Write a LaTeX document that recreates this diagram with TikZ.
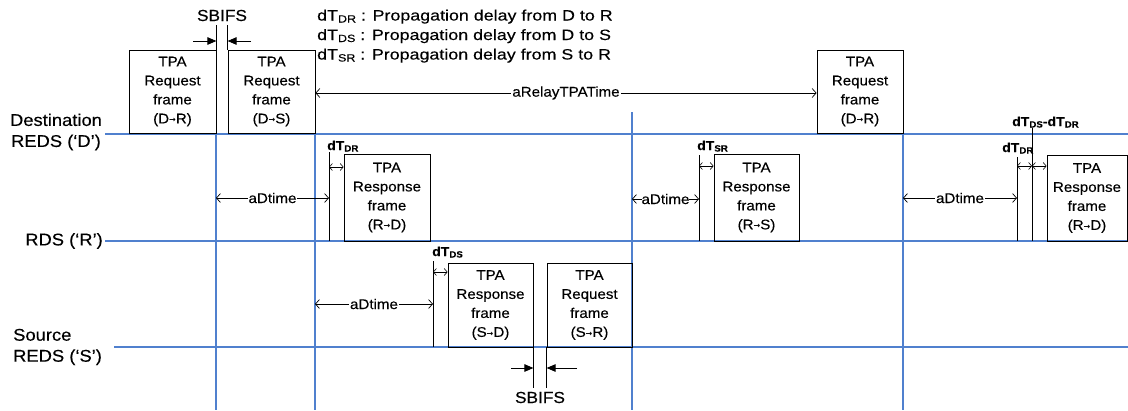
\documentclass[tikz,border=0pt]{standalone}
\usepackage{fontspec}
\setmainfont[FakeStretch=1.08, FakeBold=0.25]{Liberation Sans}
\newfontfamily\legfont[FakeStretch=1.19, FakeBold=0.25]{Liberation Sans}
\newfontfamily\arrfont{DejaVu Sans}
\usetikzlibrary{arrows.meta}
\definecolor{tlblue}{RGB}{80,128,206}
\newcommand\lsub[1]{\raisebox{-2pt}{\fontsize{10.5}{10.5}\selectfont #1}}
\newcommand\bsub[1]{\raisebox{-1.5pt}{\fontsize{9}{9}\selectfont\bfseries #1}}
\newcommand\rarr{\raisebox{0.5pt}{\arrfont\bfseries\fontsize{8}{8}\selectfont →}}
\begin{document}
\begin{tikzpicture}[x=1pt,y=-1pt,
  tl/.style={draw=tlblue, line width=1.2pt},
  frame/.style={draw, line width=0.8pt, align=center, inner sep=0pt, font=\fontsize{14}{19}\selectfont},
  tick/.style={draw, line width=0.8pt},
  dimarr/.style={line width=0.7pt, {Straight Barb[length=4pt,width=9pt]}-{Straight Barb[length=4pt,width=9pt]}},
  sdim/.style={line width=0.6pt, {Straight Barb[length=3pt,width=7pt]}-{Straight Barb[length=3pt,width=7pt]}},
  sbarr/.style={line width=0.9pt, -{Triangle[length=9pt,width=7.5pt]}},
  midlab/.style={fill=white, inner xsep=1pt, inner ysep=1pt, font=\fontsize{14}{14}\selectfont},
  boldlab/.style={font=\fontsize{13}{13}\selectfont\bfseries, inner sep=0pt, anchor=base west},
  leg/.style={font=\legfont\fontsize{15}{15}\selectfont, inner sep=0pt, anchor=base west},
  lab/.style={font=\fontsize{17}{21}\selectfont, inner sep=0pt},
  sblab/.style={font=\fontsize{16}{16}\selectfont, inner sep=0pt, anchor=base}
]
\useasboundingbox (0,0) rectangle (1128,410);
\fill[white] (0,0) rectangle (1128,410);
% time lines
\coordinate (v1) at (216,134);
\coordinate (v2) at (315,134);
\coordinate (v3) at (632,112);
\coordinate (v4) at (903,134);
\draw[tl] (105,134) -- (1128,134);
\draw[tl] (105,241) -- (1128,241);
\draw[tl] (114,347) -- (1128,347);
\draw[tl] (v1) -- (216,410);
\draw[tl] (v2) -- (315,410);
\draw[tl] (v3) -- (632,410);
\draw[tl] (v4) -- (903,410);
% station labels
\node[lab, align=center] (dlab) at (56,132) {Destination\\REDS (‘D’)};
\node[lab, anchor=east] (rlab) at (103,241) {RDS (‘R’)};
\node[lab, align=left, anchor=west] (slab) at (13,347) {Source\\REDS (‘S’)};
% legend
\node[leg] (l1) at (317,20.5) {dT\lsub{DR} : Propagation delay from D to R};
\node[leg] (l2) at (317,40) {dT\lsub{DS} : Propagation delay from D to S};
\node[leg] (l3) at (317,59.5) {dT\lsub{SR} : Propagation delay from S to R};
% frames
\node[frame, minimum width=87pt, minimum height=83pt] (A) at (172.5,91.5) {TPA\\Request\\frame\\(D\rarr R)};
\node[frame, minimum width=87pt, minimum height=83pt] (B) at (271.5,91.5) {TPA\\Request\\frame\\(D\rarr S)};
\node[frame, minimum width=86pt, minimum height=83pt] (C) at (860,91.5) {TPA\\Request\\frame\\(D\rarr R)};
\node[frame, minimum width=86pt, minimum height=87pt] (R1) at (387,197.5) {TPA\\Response\\frame\\(R\rarr D)};
\node[frame, minimum width=85pt, minimum height=87pt] (R2) at (756.5,197.5) {TPA\\Response\\frame\\(R\rarr S)};
\node[frame, minimum width=80pt, minimum height=86pt] (R3) at (1087,198) {TPA\\Response\\frame\\(R\rarr D)};
\node[frame, minimum width=85pt, minimum height=84pt] (S1) at (490.5,305) {TPA\\Response\\frame\\(S\rarr D)};
\node[frame, minimum width=85pt, minimum height=84pt] (S2) at (589.5,305) {TPA\\Request\\frame\\(S\rarr R)};
% SBIFS top
\coordinate (sbt) at (0,25);
\coordinate (sby) at (0,41);
\coordinate (sbl) at (193,41);
\coordinate (sbr) at (251,41);
\draw[tick] (A.north east) -- (A.north east |- sbt);
\draw[tick] (B.north west) -- (B.north west |- sbt);
\draw[sbarr] (sbl) -- (A.east |- sby);
\draw[sbarr] (sbr) -- (B.west |- sby);
\node[sblab] (sb1) at (222,21) {SBIFS};
% SBIFS bottom
\coordinate (sbb) at (0,388);
\coordinate (sby2) at (0,368);
\coordinate (sbl2) at (511,368);
\coordinate (sbr2) at (577,368);
\draw[tick] (S1.south east) -- (S1.south east |- sbb);
\draw[tick] (S2.south west) -- (S2.south west |- sbb);
\draw[sbarr] (sbl2) -- (S1.east |- sby2);
\draw[sbarr] (sbr2) -- (S2.west |- sby2);
\node[sblab] (sb2) at (540,403) {SBIFS};
% aRelayTPATime
\coordinate (yrel) at (0,93);
\draw[dimarr] (B.east |- yrel) -- node[midlab] (relay) {aRelayTPATime} (C.west |- yrel);
% first R response
\coordinate (d1t) at (329,152);
\coordinate (d1b) at (329,241);
\coordinate (d1y) at (0,167);
\coordinate (a1y) at (0,198);
\draw[tick] (d1t) -- (d1b);
\draw[sdim] (d1t |- d1y) -- (R1.west |- d1y);
\node[boldlab] (d1l) at (327,150) {dT\bsub{DR}};
\draw[dimarr] (v1 |- a1y) -- node[midlab] (a1) {aDtime} (d1t |- a1y);
% S response
\coordinate (d2t) at (433,261);
\coordinate (d2b) at (433,347);
\coordinate (d2y) at (0,272);
\coordinate (a2y) at (0,304);
\draw[tick] (d2t) -- (d2b);
\draw[sdim] (d2t |- d2y) -- (S1.west |- d2y);
\node[boldlab] (d2l) at (432,256) {dT\bsub{DS}};
\draw[dimarr] (v2 |- a2y) -- node[midlab] (a2) {aDtime} (d2t |- a2y);
% R to S response
\coordinate (d3t) at (699,155);
\coordinate (d3b) at (699,241);
\coordinate (d3y) at (0,166);
\coordinate (a3y) at (0,199);
\draw[tick] (d3t) -- (d3b);
\draw[sdim] (d3t |- d3y) -- (R2.west |- d3y);
\node[boldlab] (d3l) at (697,150) {dT\bsub{SR}};
\draw[dimarr] (v3 |- a3y) -- node[midlab, inner xsep=0pt] (a3) {aDtime} (d3t |- a3y);
% right R response
\coordinate (d4t) at (1017,157);
\coordinate (d4b) at (1017,241);
\coordinate (d5t) at (1032,128);
\coordinate (d5b) at (1032,241);
\coordinate (d4y) at (0,166);
\coordinate (a4y) at (0,198);
\draw[tick] (d4t) -- (d4b);
\draw[tick] (d5t) -- (d5b);
\draw[sdim] (d4t |- d4y) -- (d5t |- d4y);
\draw[sdim] (d5t |- d4y) -- (R3.west |- d4y);
\node[boldlab] (d4l) at (1002,152) {dT\bsub{DR}};
\node[boldlab] (d5l) at (1012,126) {dT\bsub{DS}-dT\bsub{DR}};
\draw[dimarr] (v4 |- a4y) -- node[midlab] (a4) {aDtime} (d4t |- a4y);
\end{tikzpicture}
\end{document}
